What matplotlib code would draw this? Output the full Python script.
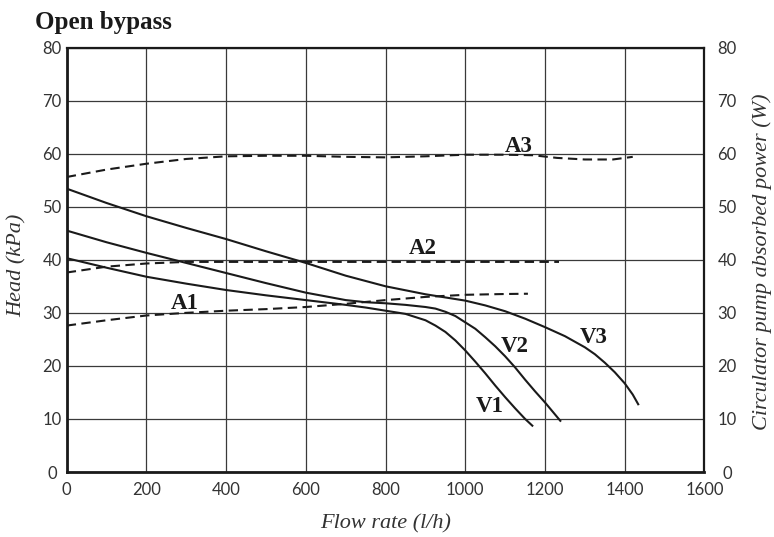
import matplotlib
matplotlib.use("Agg")
import matplotlib.pyplot as plt

# ---- data ----
v1_x = [0, 100, 200, 300, 400, 500, 600, 700, 750, 800, 850, 900, 925, 950, 975, 1000,
        1025, 1050, 1075, 1100, 1125, 1150, 1170]
v1_y = [40.3, 38.5, 36.8, 35.5, 34.3, 33.3, 32.4, 31.5, 31.0, 30.4, 29.8, 28.6, 27.6, 26.4, 24.8, 22.9,
        20.8, 18.6, 16.3, 14.1, 12.0, 10.0, 8.6]

v2_x = [0, 100, 200, 300, 400, 500, 600, 700, 750, 800, 850, 900, 925, 950, 975, 1000, 1025,
        1050, 1075, 1100, 1125, 1150, 1175, 1200, 1220, 1240]
v2_y = [45.5, 43.3, 41.3, 39.4, 37.5, 35.6, 33.8, 32.4, 32.0, 31.8, 31.5, 31.1, 30.8, 30.2, 29.4, 28.2, 27.0,
        25.4, 23.7, 21.8, 19.7, 17.4, 15.2, 13.1, 11.3, 9.5]

v3_x = [0, 100, 200, 300, 400, 500, 600, 700, 800, 900, 1000, 1050, 1100, 1150, 1200, 1250,
        1300, 1325, 1350, 1375, 1400, 1420, 1435]
v3_y = [53.4, 50.7, 48.2, 46.0, 43.9, 41.6, 39.4, 37.0, 35.0, 33.5, 32.3, 31.4, 30.3, 28.9, 27.3, 25.6,
        23.5, 22.2, 20.6, 18.8, 16.7, 14.6, 12.6]

a1_x = [0, 100, 200, 300, 400, 500, 600, 700, 800, 900, 1000, 1100, 1157]
a1_y = [27.6, 28.6, 29.5, 30.0, 30.4, 30.7, 31.1, 31.7, 32.4, 33.0, 33.4, 33.55, 33.6]

a2_x = [0, 100, 200, 300, 400, 600, 800, 1000, 1235]
a2_y = [37.6, 38.7, 39.3, 39.6, 39.6, 39.6, 39.6, 39.6, 39.6]

a3_x = [0, 100, 200, 300, 400, 500, 600, 700, 800, 900, 1000, 1100, 1170, 1230, 1300, 1370, 1420]
a3_y = [55.6, 57.0, 58.1, 59.0, 59.5, 59.6, 59.6, 59.4, 59.3, 59.5, 59.8, 59.8, 59.7, 59.2, 58.9, 58.9, 59.4]

x_ticks = [0, 200, 400, 600, 800, 1000, 1200, 1400, 1600]
y_ticks = [0, 10, 20, 30, 40, 50, 60, 70, 80]

curve_labels = ["V1", "V2", "V3", "A1", "A2", "A3"]
label_x = [1061, 1124, 1322, 296, 894, 1134]
label_y = [12.4, 23.7, 25.4, 31.7, 42.2, 61.4]

title = "Open bypass"
xlabel = "Flow rate (l/h)"
ylabel_left = "Head (kPa)"
ylabel_right = "Circulator pump absorbed power (W)"

# ---- styling ----
serif = ["Liberation Serif", "DejaVu Serif"]
tickfont = dict(family="Lato", weight="normal", size=12)
txtcol = "#333333"

fig = plt.figure(figsize=(7.74, 5.37), dpi=100)
ax = fig.add_axes([0.0862, 0.121, 0.9102 - 0.0862, 0.9115 - 0.121])

ax.set_xlim(0, 1600)
ax.set_ylim(0, 80)
ax.set_xticks(x_ticks)
ax.set_yticks(y_ticks)
ax.grid(True, color="#3a3a3a", linewidth=0.9)
ax.set_axisbelow(True)

lw = 1.5
for xs, ys in [(v1_x, v1_y), (v2_x, v2_y), (v3_x, v3_y)]:
    ax.plot(xs, ys, color="#1a1a1a", linewidth=lw, solid_capstyle="butt",
            solid_joinstyle="round")
for xs, ys in [(a1_x, a1_y), (a2_x, a2_y), (a3_x, a3_y)]:
    ax.plot(xs, ys, color="#1a1a1a", linewidth=lw, dashes=(4.5, 2.6))

for t, lx, ly in zip(curve_labels, label_x, label_y):
    ax.text(lx, ly, t, ha="center", va="center", fontsize=16.5,
            fontweight="bold", family=serif, color="#1a1a1a")

for side in ["left", "bottom"]:
    ax.spines[side].set_linewidth(2.0)
for side in ["top", "right"]:
    ax.spines[side].set_linewidth(1.6)
for s in ax.spines.values():
    s.set_color("#1a1a1a")

ax.tick_params(axis="both", length=0)
ax.tick_params(axis="y", pad=10.6)
ax.tick_params(axis="x", pad=7)
for lab in ax.get_yticklabels():
    lab.set_horizontalalignment("center")
for lab in ax.get_xticklabels() + ax.get_yticklabels():
    lab.set_fontfamily(tickfont["family"])
    lab.set_fontweight(tickfont["weight"])
    lab.set_fontsize(tickfont["size"])
    lab.set_color(txtcol)

ax2 = ax.twinx()
ax2.set_ylim(0, 80)
ax2.set_yticks(y_ticks)
ax2.tick_params(axis="y", length=0, pad=16.2)
for lab in ax2.get_yticklabels():
    lab.set_horizontalalignment("center")
    lab.set_fontfamily(tickfont["family"])
    lab.set_fontweight(tickfont["weight"])
    lab.set_fontsize(tickfont["size"])
    lab.set_color(txtcol)
for s in ax2.spines.values():
    s.set_visible(False)

fig.text(386 / 774, 1 - 524 / 537, xlabel, ha="center", va="center",
         fontsize=16, style="italic", family=serif, color=txtcol)
fig.text(17 / 774, 1 - 265 / 537, ylabel_left, ha="center", va="center",
         rotation=90, fontsize=16, style="italic", family=serif, color=txtcol)
fig.text(762 / 774, 1 - 262 / 537, ylabel_right, ha="center", va="center",
         rotation=90, fontsize=16, style="italic", family=serif, color=txtcol)
fig.text(35 / 774, 1 - 22 / 537, title, ha="left", va="center",
         fontsize=18, fontweight="bold", family=serif, color="#1a1a1a")

fig.savefig("out.png", dpi=100)
